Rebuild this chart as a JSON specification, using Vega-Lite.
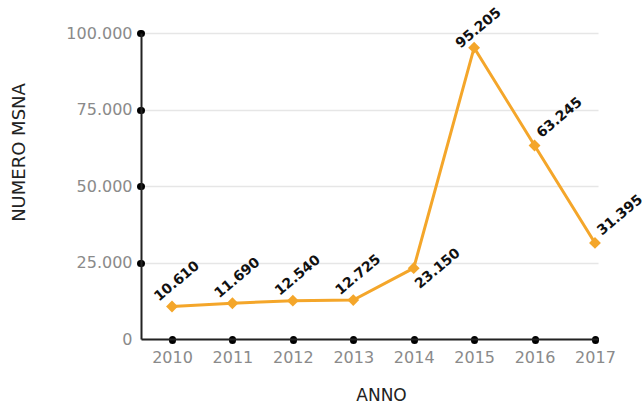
{
  "$schema": "https://vega.github.io/schema/vega-lite/v6.json",
  "autosize": {"type": "none"},
  "width": 457,
  "height": 306,
  "padding": {"left": 141, "top": 33, "right": 44, "bottom": 66},
  "background": "white",
  "config": {
    "view": {"stroke": null},
    "locale": {"number": {"decimal": ",", "thousands": ".", "grouping": [3], "currency": ["€", ""]}},
    "font": "DejaVu Sans"
  },
  "data": {"values": [
    {"anno": 2010, "msna": 10610},
    {"anno": 2011, "msna": 11690},
    {"anno": 2012, "msna": 12540},
    {"anno": 2013, "msna": 12725},
    {"anno": 2014, "msna": 23150},
    {"anno": 2015, "msna": 95205},
    {"anno": 2016, "msna": 63245},
    {"anno": 2017, "msna": 31395}
  ]},
  "encoding": {
    "x": {
      "field": "anno", "type": "quantitative",
      "scale": {"domain": [2009.487, 2017.05], "nice": false, "zero": false},
      "axis": {
        "title": "ANNO", "values": [2010, 2011, 2012, 2013, 2014, 2015, 2016, 2017],
        "labelExpr": "format(datum.value, 'd')",
        "grid": false,
        "domainColor": "#222222", "domainWidth": 2,
        "tickColor": "#000000", "tickWidth": 7, "tickSize": 1, "tickCap": "round",
        "labelFont": "DejaVu Sans", "labelFontSize": 16, "labelColor": "#8a8a8a", "labelPadding": 9,
        "titleFont": "DejaVu Sans", "titleFontSize": 17, "titleFontWeight": "normal", "titleColor": "#222222",
        "titleX": 240, "titleY": 56, "titleBaseline": "middle", "titleAlign": "center"
      }
    },
    "y": {
      "field": "msna", "type": "quantitative",
      "scale": {"domain": [0, 100000], "nice": false},
      "axis": {
        "title": "NUMERO MSNA", "values": [0, 25000, 50000, 75000, 100000],
        "labelExpr": "replace(replace(format(datum.value, ',d'), ',', '.'), ',', '.')",
        "grid": true, "gridColor": "#e6e6e6", "gridWidth": 1.5,
        "domainColor": "#222222", "domainWidth": 2,
        "tickColor": "#000000", "tickWidth": 7, "tickSize": 1, "tickCap": "round",
        "tickOpacity": {"condition": {"test": "datum.value === 0", "value": 0}, "value": 1},
        "labelFont": "DejaVu Sans", "labelFontSize": 16, "labelColor": "#8a8a8a", "labelPadding": 8,
        "titleFont": "DejaVu Sans", "titleFontSize": 18, "titleFontWeight": "normal", "titleColor": "#222222",
        "titleX": -122, "titleY": 119, "titleAngle": -90, "titleBaseline": "middle", "titleAlign": "center"
      }
    }
  },
  "layer": [
    {"mark": {"type": "line", "color": "#F4A62A", "strokeWidth": 3}},
    {"mark": {"type": "point", "shape": "diamond", "filled": true, "opacity": 1, "color": "#F4A62A", "size": 140}},
    {
      "transform": [{"filter": "datum.anno <= 2013"}],
      "mark": {"type": "text", "angle": -40, "align": "center", "baseline": "middle", "dx": 20, "dy": -16, "font": "DejaVu Sans", "fontWeight": "bold", "fontSize": 14, "color": "#111111"},
      "encoding": {"text": {"field": "msna", "type": "quantitative", "format": ","}}
    },
    {
      "transform": [{"filter": "datum.anno === 2015"}],
      "mark": {"type": "text", "angle": -40, "align": "center", "baseline": "middle", "dx": 16, "dy": -12, "font": "DejaVu Sans", "fontWeight": "bold", "fontSize": 14, "color": "#111111"},
      "encoding": {"text": {"field": "msna", "type": "quantitative", "format": ","}}
    },
    {
      "transform": [{"filter": "datum.anno === 2014"}],
      "mark": {"type": "text", "angle": -40, "align": "center", "baseline": "middle", "dx": 18, "dy": 16, "font": "DejaVu Sans", "fontWeight": "bold", "fontSize": 14, "color": "#111111"},
      "encoding": {"text": {"field": "msna", "type": "quantitative", "format": ","}}
    },
    {
      "transform": [{"filter": "datum.anno >= 2016"}],
      "mark": {"type": "text", "angle": -40, "align": "left", "baseline": "middle", "dx": 10, "dy": -5, "font": "DejaVu Sans", "fontWeight": "bold", "fontSize": 14, "color": "#111111"},
      "encoding": {"text": {"field": "msna", "type": "quantitative", "format": ","}}
    }
  ]
}
